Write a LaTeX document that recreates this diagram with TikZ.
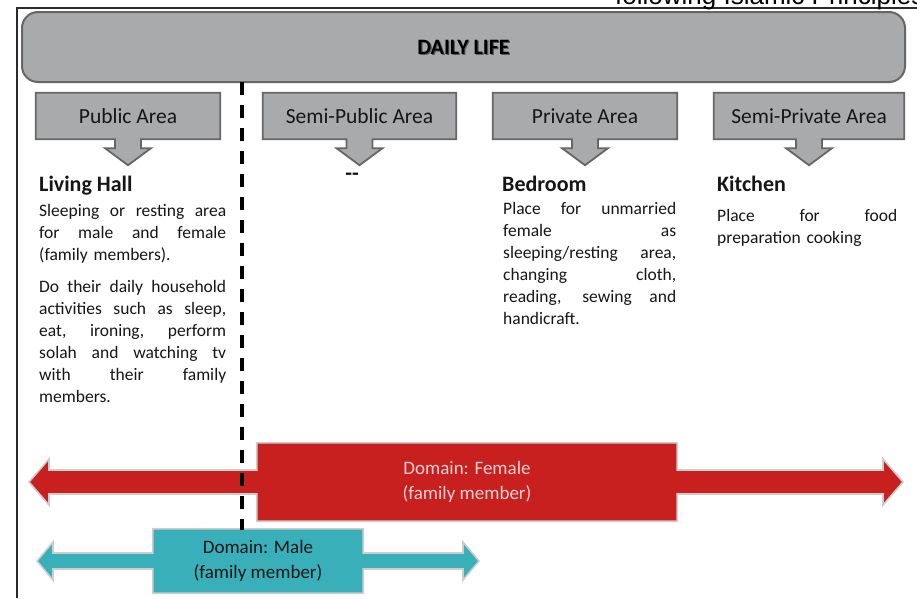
\documentclass[tikz,border=0pt]{standalone}
\usepackage{fontspec}
\setmainfont{Carlito}
\newfontfamily\capfont{Liberation Sans}
\usetikzlibrary{calc}

\definecolor{boxgray}{HTML}{A8AAAB}
\definecolor{edgegray}{HTML}{666666}
\definecolor{framegray}{HTML}{2A2A2A}
\definecolor{textdark}{HTML}{161616}
\definecolor{shadowgray}{HTML}{5A5A5A}
\definecolor{femred}{HTML}{C8201F}
\definecolor{femtext}{HTML}{F0D2D2}
\definecolor{maleteal}{HTML}{38AFB9}
\definecolor{glowgray}{HTML}{CDCDCD}

\pgfdeclarelayer{base}
\pgfdeclarelayer{background}
\pgfsetlayers{base,background,main}

% justified line of a fixed width (word spaces allowed to stretch)
\newcommand\jline[2]{\makebox[#1][s]{\spaceskip=0pt\xspaceskip=0pt #2}}

% grey box with a short down arrow under it
\newcommand\areacallout[1]{%
  \begin{pgfonlayer}{background}
    \draw[calloutline] (#1.north west) -- (#1.north east) -- (#1.south east)
      -- ($(#1.south)+(13,0)$) -- ++(0,9) -- ++(10,0) -- ($(#1.south)+(0,26)$)
      -- ($(#1.south)+(-23,9)$) -- ++(10,0) -- ++(0,-9) -- (#1.south west) -- cycle;
  \end{pgfonlayer}}

\tikzset{
  frameline/.style={draw=framegray, line width=2pt},
  topbar/.style={rectangle, rounded corners=16pt, fill=boxgray, draw=edgegray,
    line width=2pt, minimum width=883pt, minimum height=70pt, inner sep=0pt},
  bartext/.style={inner sep=0pt, font=\bfseries\fontsize{22}{25}\selectfont},
  areabox/.style={rectangle, minimum width=#1, minimum height=46pt, inner sep=0pt,
    font=\fontsize{21.5}{24}\selectfont, text=textdark},
  calloutline/.style={fill=boxgray, draw=edgegray, line width=1.8pt, line join=miter},
  heading/.style={anchor=base west, inner sep=0pt,
    font=\bfseries\fontsize{22}{26}\selectfont, text=textdark},
  bodytext/.style={anchor=base west, inner sep=0pt, align=left, text width=#1,
    font=\fontsize{17.5}{22}\selectfont, text=textdark},
  divider/.style={draw=black, line width=3.5pt, dash pattern=on 13pt off 10pt},
  domainbox/.style={rectangle, inner sep=0pt, align=center,
    font=\fontsize{19}{25}\selectfont},
  domainshape/.style={draw=glowgray, line width=1.6pt, line join=miter},
}

\begin{document}
\begin{tikzpicture}[x=1pt, y=-1pt]
  \useasboundingbox (0,0) rectangle (917,598);
  \begin{pgfonlayer}{base}
    \fill[white] (0,0) rectangle (917,598);
  \end{pgfonlayer}

  % page frame and running title
  \draw[frameline] (17,598) -- (17,8) -- (917,8);
  \node[anchor=base west, inner sep=0pt, font=\capfont\fontsize{26}{30}\selectfont,
    text=black] (runhead) at (615,4) {following Islamic Principles};

  % top bar
  \node[topbar] (daily) at (463.5,47) {};
  \node[bartext, text=shadowgray] (dailyshadow) at ($(daily.center)+(1.2,1.6)$) {DAILY LIFE};
  \node[bartext, text=black] (dailytext) at (daily.center) {DAILY LIFE};

  % area boxes
  \node[areabox=184pt] (pub) at (128,116) {Public Area};
  \node[areabox=193pt] (spub) at (359.5,116) {Semi-Public Area};
  \node[areabox=184pt] (priv) at (585,116) {Private Area};
  \node[areabox=190pt] (spriv) at (809,116) {Semi-Private Area};
  \areacallout{pub}
  \areacallout{spub}
  \areacallout{priv}
  \areacallout{spriv}

  % public area: living hall
  \node[heading] (hall) at (39,191) {Living Hall};
  \node[bodytext=187pt] (hallA) at (39,216) {%
    \jline{187pt}{Sleeping or resting area}\\
    \jline{187pt}{for male and female}\\
    (family members).};
  \node[bodytext=187pt] (hallB) at (39,292) {%
    \jline{187pt}{Do their daily household}\\
    \jline{187pt}{activities such as sleep,}\\
    \jline{187pt}{eat, ironing, perform}\\
    \jline{187pt}{solah and watching tv}\\
    \jline{187pt}{with their family}\\
    members.};

  % semi-public area
  \node[inner sep=0pt, font=\bfseries\fontsize{22}{26}\selectfont, text=textdark]
    (none) at (352,177) {\mbox{-}\mbox{-}};

  % private area: bedroom
  \node[heading] (bed) at (502,191) {Bedroom};
  \node[bodytext=173pt] (bedtxt) at (503,214) {%
    \jline{173pt}{Place for unmarried}\\
    \jline{173pt}{female as}\\
    \jline{173pt}{sleeping/resting area,}\\
    \jline{173pt}{changing cloth,}\\
    \jline{173pt}{reading, sewing and}\\
    handicraft.};

  % semi-private area: kitchen
  \node[heading] (kit) at (717,191) {Kitchen};
  \node[bodytext=180pt] (kittxt) at (717,221) {%
    \jline{180pt}{Place for food}\\
    preparation cooking};

  % female domain band
  \node[domainbox, minimum width=420pt, minimum height=78pt, text=femtext]
    (fem) at (467,482) {Domain: Female\\(family member)};
  \coordinate (femL) at (29,482);
  \coordinate (femR) at (903,482);
  \begin{pgfonlayer}{background}
    \draw[domainshape, fill=femred]
      (fem.north west) -- (fem.north east) -- ($(fem.east)+(0,-12)$)
      -- ($(femR)+(-20,-12)$) -- ($(femR)+(-20,-23)$) -- (femR)
      -- ($(femR)+(-20,23)$) -- ($(femR)+(-20,12)$) -- ($(fem.east)+(0,12)$)
      -- (fem.south east) -- (fem.south west) -- ($(fem.west)+(0,12)$)
      -- ($(femL)+(20,12)$) -- ($(femL)+(20,23)$) -- (femL)
      -- ($(femL)+(20,-23)$) -- ($(femL)+(20,-12)$) -- ($(fem.west)+(0,-12)$)
      -- cycle;
  \end{pgfonlayer}

  % dividing line between public and semi-public zones
  \coordinate (dtop) at (242,82);
  \coordinate (dbot) at (242,530);
  \draw[divider] (dtop) -- (dbot);

  % male domain band
  \node[domainbox, minimum width=210pt, minimum height=64pt, text=textdark]
    (male) at (258,561) {Domain: Male\\(family member)};
  \coordinate (maleL) at (37,561);
  \coordinate (maleR) at (479,561);
  \begin{pgfonlayer}{background}
    \draw[domainshape, fill=maleteal]
      (male.north west) -- (male.north east) -- ($(male.east)+(0,-8)$)
      -- ($(maleR)+(-16,-8)$) -- ($(maleR)+(-16,-19)$) -- (maleR)
      -- ($(maleR)+(-16,19)$) -- ($(maleR)+(-16,8)$) -- ($(male.east)+(0,8)$)
      -- (male.south east) -- (male.south west) -- ($(male.west)+(0,8)$)
      -- ($(maleL)+(16,8)$) -- ($(maleL)+(16,19)$) -- (maleL)
      -- ($(maleL)+(16,-19)$) -- ($(maleL)+(16,-8)$) -- ($(male.west)+(0,-8)$)
      -- cycle;
  \end{pgfonlayer}
\end{tikzpicture}
\end{document}
